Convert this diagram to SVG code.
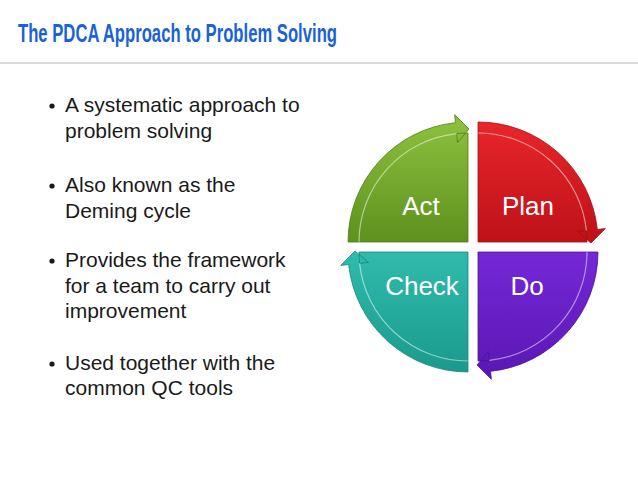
<svg xmlns="http://www.w3.org/2000/svg" width="638" height="479" viewBox="0 0 638 479">
<style>
.title{font-family:"Liberation Sans Narrow","Liberation Sans",Arial,sans-serif;font-weight:bold;font-size:25px;fill:#1a62d6}
.body{font-family:"Liberation Sans",Arial,sans-serif;font-size:21px;fill:#1a1a1a}
.lbl{font-family:"Liberation Sans",Arial,sans-serif;font-size:26px;fill:#ffffff;text-anchor:middle}
.hl{fill:none;stroke:#ffffff;stroke-opacity:0.5;stroke-width:1.2}
</style>
<defs>
<path id="q" d="M0,0 L0,-120 A120,120 0 0 1 119.34,-12.54 L127.30,-13.38 L113,1 L99.45,-10.45 L108.40,-11.39 A109,109 0 0 1 109,0 Z"/>
<path id="qh" d="M0,-109 A109,109 0 0 1 108.40,-11.39"/>
<linearGradient id="gPlan" x1="0" y1="0" x2="0" y2="1"><stop offset="0" stop-color="#e8262b"/><stop offset="1" stop-color="#bd1118"/></linearGradient>
<linearGradient id="gDo" x1="0" y1="0" x2="1" y2="0"><stop offset="0" stop-color="#7428d6"/><stop offset="1" stop-color="#5a17b4"/></linearGradient>
<linearGradient id="gCheck" x1="0" y1="1" x2="0" y2="0"><stop offset="0" stop-color="#2fbcad"/><stop offset="1" stop-color="#1a9a8c"/></linearGradient>
<linearGradient id="gAct" x1="1" y1="0" x2="0" y2="0"><stop offset="0" stop-color="#8ec23e"/><stop offset="1" stop-color="#5e911e"/></linearGradient>
</defs>
<rect width="638" height="479" fill="#ffffff"/>
<text class="title" x="18" y="42" textLength="319" lengthAdjust="spacingAndGlyphs">The PDCA Approach to Problem Solving</text>
<rect x="0" y="62" width="638" height="2" fill="#dadada"/>
<g id="bullets">
<circle cx="52" cy="106" r="2.6" fill="#1a1a1a"/>
<text class="body" x="65" y="112">A systematic approach to</text>
<text class="body" x="65" y="138">problem solving</text>
<circle cx="52" cy="186" r="2.6" fill="#1a1a1a"/>
<text class="body" x="65" y="192">Also known as the</text>
<text class="body" x="65" y="218">Deming cycle</text>
<circle cx="52" cy="261" r="2.6" fill="#1a1a1a"/>
<text class="body" x="65" y="267">Provides the framework</text>
<text class="body" x="65" y="293">for a team to carry out</text>
<text class="body" x="65" y="318">improvement</text>
<circle cx="52" cy="364" r="2.6" fill="#1a1a1a"/>
<text class="body" x="65" y="370">Used together with the</text>
<text class="body" x="65" y="395">common QC tools</text>
</g>
<g id="plan">
<g transform="translate(478,242)"><use href="#q" fill="url(#gPlan)" stroke="#a30e15" stroke-width="0.8"/><use href="#qh" class="hl"/></g>
<text class="lbl" x="528" y="215">Plan</text>
</g>
<g id="do">
<g transform="translate(478,252) rotate(90)"><use href="#q" fill="url(#gDo)" stroke="#4c1199" stroke-width="0.8"/><use href="#qh" class="hl"/></g>
<text class="lbl" x="527" y="295">Do</text>
</g>
<g id="check">
<g transform="translate(468,252) rotate(180)"><use href="#q" fill="url(#gCheck)" stroke="#14877b" stroke-width="0.8"/><use href="#qh" class="hl"/></g>
<text class="lbl" x="422" y="295">Check</text>
</g>
<g id="act">
<g transform="translate(468,242) rotate(270)"><use href="#q" fill="url(#gAct)" stroke="#4f7c18" stroke-width="0.8"/><use href="#qh" class="hl"/></g>
<text class="lbl" x="421" y="215">Act</text>
</g>
<g id="connectors"/>
</svg>
